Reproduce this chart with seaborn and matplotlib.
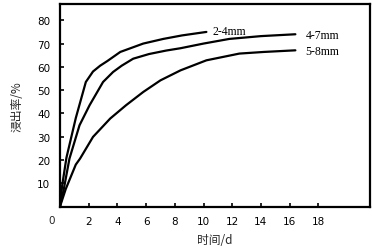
import matplotlib
matplotlib.use("Agg")
import matplotlib.pyplot as plt
import numpy as np
import pandas as pd
import seaborn as sns

# leaching curves (days, leach rate %)
days_24 = [0, 0.15, 0.45, 1.1, 1.8, 2.3, 2.8, 3.3, 4.2, 5.8, 7.2, 8.5, 10.2]
rate_24 = [0, 9, 21, 38, 53.5, 58, 60.5, 62.5, 66.4, 70, 72, 73.5, 75]

days_47 = [0, 0.25, 0.66, 1.36, 2.06, 3.0, 3.7, 4.3, 5.1, 6.2, 7.4, 8.4, 10, 11.8, 14, 16.4]
rate_47 = [0, 7, 20.6, 34.9, 43.5, 53.5, 57.8, 60.5, 63.5, 65.5, 67, 68, 70, 72, 73.2, 74]

days_58 = [0, 0.4, 1.1, 1.4, 2.3, 3.5, 4.6, 5.8, 7.0, 8.4, 10.2, 12.5, 14.2, 16.4]
rate_58 = [0, 7.5, 18, 20.6, 29.9, 37.8, 43.5, 49.2, 54.2, 58.5, 62.8, 65.7, 66.4, 67.1]

labels = ["2-4mm", "4-7mm", "5-8mm"]
x_ticks = [2, 4, 6, 8, 10, 12, 14, 16, 18]
y_ticks = [10, 20, 30, 40, 50, 60, 70, 80]

sns.set_style("ticks")
plt.rcParams["font.family"] = ["DejaVu Sans"]

df = pd.concat([
    pd.DataFrame({"d": days_24, "r": rate_24, "size": labels[0]}),
    pd.DataFrame({"d": days_47, "r": rate_47, "size": labels[1]}),
    pd.DataFrame({"d": days_58, "r": rate_58, "size": labels[2]}),
])

fig = plt.figure(figsize=(3.72, 2.53), dpi=100)
ax = fig.add_axes([60 / 372, 1 - 207.5 / 253, 310 / 372, 202.5 / 253])

sns.lineplot(data=df, x="d", y="r", units="size", estimator=None,
             color="black", linewidth=1.6, ax=ax, legend=False)

ax.set_xlim(0, 21.6)
ax.set_ylim(0, 87)
ax.set_xticks(x_ticks)
ax.set_yticks(y_ticks)
ax.tick_params(direction="in", length=3, width=1.2, labelsize=7.5, pad=7,
               colors="black")
for s in ax.spines.values():
    s.set_visible(True)
    s.set_linewidth(1.6)
    s.set_color("black")

# zero at the corner
ax.text(-0.55, -6, "0", fontsize=7.5, ha="center", va="center", clip_on=False)

# curve labels
lab_font = dict(family="Liberation Serif", fontsize=8.5, color="black")
ax.text(10.6, 75.5, labels[0], ha="left", va="center", **lab_font)
ax.text(17.1, 73.8, labels[1], ha="left", va="center", **lab_font)
ax.text(17.1, 67.0, labels[2], ha="left", va="center", **lab_font)

cjk = ["Noto Sans CJK SC", "DejaVu Sans"]
ax.set_xlabel("时间/d", family=cjk, fontsize=8.5, labelpad=5)
ax.set_ylabel("浸出率/%", family=cjk, fontsize=8.5, labelpad=10)

fig.savefig("out.png", dpi=100)
